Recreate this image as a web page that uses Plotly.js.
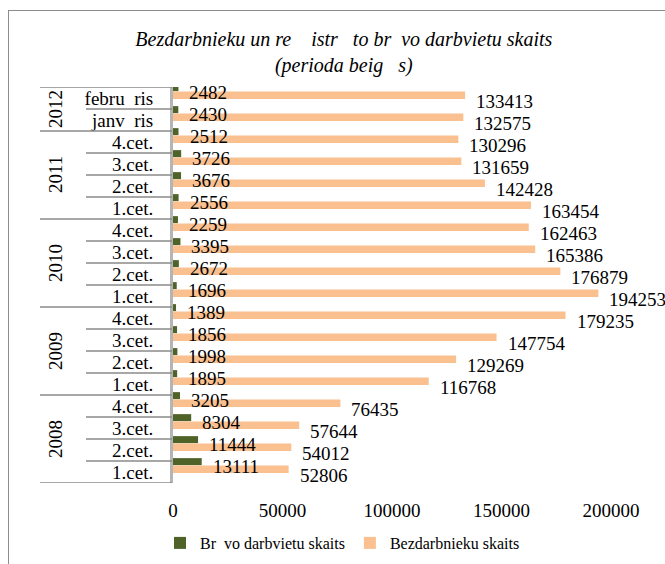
<!DOCTYPE html>
<html><head><meta charset="utf-8">
<script src="https://cdn.plot.ly/plotly-3.0.1.min.js"></script>
<style>
body{margin:0;background:#fff;}
#chart{position:absolute;left:0;top:0;width:665px;height:564px;}
#frame{position:absolute;left:8px;top:10px;width:700px;height:600px;border-left:1.5px solid #8c8c8c;border-top:1.5px solid #8c8c8c;pointer-events:none;}
</style>
</head><body>
<div id="chart"></div><div id="frame"></div>
<script>
const NB = '\u00a0';
// Rows from bottom (2008 1.cet.) to top (2012 februāris)
const rowYears = ['2008','2008','2008','2008','2009','2009','2009','2009','2010','2010','2010','2010','2011','2011','2011','2011','2012','2012'];
const periodLabels = ['1.cet.','2.cet.','3.cet.','4.cet.','1.cet.','2.cet.','3.cet.','4.cet.','1.cet.','2.cet.','3.cet.','4.cet.','1.cet.','2.cet.','3.cet.','4.cet.','janv'+NB+NB+'ris','febru'+NB+NB+'ris'];
const vacancies = [13111,11444,8304,3205,1895,1998,1856,1389,1696,2672,3395,2259,2556,3676,3726,2512,2430,2482];
const unemployed = [52806,54012,57644,76435,116768,129269,147754,179235,194253,176879,165386,162463,163454,142428,131659,130296,132575,133413];
const xTickValues = [0,50000,100000,150000,200000];
const seriesNames = ['Br'+NB+NB+'vo darbvietu skaits','Bezdarbnieku skaits'];
const titleText = 'Bezdarbnieku un re'+NB+NB+NB+NB+'istr'+NB+NB+NB+'to br'+NB+NB+'vo darbvietu skaits<br>(perioda beig'+NB+NB+NB+'s)';

const FONT = 'Liberation Serif, Times New Roman, serif';
const W = 665, H = 564;
const M = {l:173, r:54, t:87, b:81, autoexpand:false};
const PW = W - M.l - M.r;
const PH = H - M.t - M.b;
const px2paper = px => (px - M.l) / PW;
const py2paper = py => (H - M.b - py) / PH;

const idx = rowYears.map((_, i) => i);

const traces = [
  {type:'bar', orientation:'h', name:seriesNames[0], x:vacancies, y:idx,
   offset:0.31, width:0.32, marker:{color:'#4F6228'}, cliponaxis:false,
   hoverinfo:'skip', legendrank:1},
  {type:'bar', orientation:'h', name:seriesNames[1], x:unemployed, y:idx,
   offset:-0.04, width:0.34, marker:{color:'#FAC090'}, cliponaxis:false,
   hoverinfo:'skip', legendrank:2}
];

const LABEL_FONT = {family:FONT, size:19, color:'#000'};
const annotations = [];
idx.forEach(i => {
  annotations.push({x:vacancies[i], y:i+0.25, xref:'x', yref:'y', text:String(vacancies[i]),
    showarrow:false, xanchor:'left', yanchor:'middle', xshift:9, font:LABEL_FONT});
  annotations.push({x:unemployed[i], y:i-0.14, xref:'x', yref:'y', text:String(unemployed[i]),
    showarrow:false, xanchor:'left', yanchor:'middle', xshift:9, font:LABEL_FONT});
});

// year group labels
const groups = [];
rowYears.forEach((yr, i) => {
  if (!groups.length || groups[groups.length-1].year !== yr) groups.push({year:yr, start:i, end:i});
  else groups[groups.length-1].end = i;
});
groups.forEach(g => {
  annotations.push({xref:'paper', yref:'y', x:px2paper(55), y:(g.start+g.end)/2, text:g.year,
    textangle:-90, showarrow:false, xanchor:'center', yanchor:'middle', font:LABEL_FONT});
});

// table lines
const shapes = [];
for (let b = 0; b <= rowYears.length; b++) {
  const isGroup = (b === 0 || b === rowYears.length || rowYears[b] !== rowYears[b-1]);
  shapes.push({type:'line', xref:'paper', yref:'y', x0:px2paper(isGroup ? 40 : 86), x1:px2paper(172),
    y0:b-0.5, y1:b-0.5, line:{color:'#8a8a8a', width:1.5}});
}

const layout = {
  width:W, height:H, margin:M,
  paper_bgcolor:'#fff', plot_bgcolor:'rgba(0,0,0,0)',
  font:{family:FONT, size:19, color:'#000'},
  barmode:'overlay',
  showlegend:true,
  title:{text:titleText, font:{family:FONT, size:20, style:'italic', color:'#000'},
    xref:'container', x:0.517, xanchor:'center', yref:'container', y:0.919, yanchor:'top'},
  xaxis:{range:[0,200000], tickvals:xTickValues, ticktext:xTickValues.map(String),
    showgrid:false, zeroline:false, showline:false, ticks:'', ticklabelstandoff:14,
    tickfont:LABEL_FONT, fixedrange:true, automargin:false},
  yaxis:{range:[-0.5, rowYears.length-0.5], tickvals:idx, ticktext:periodLabels,
    showgrid:false, zeroline:false, showline:true, linecolor:'#b5b5b5', linewidth:3,
    ticks:'', ticklabelstandoff:13, tickfont:LABEL_FONT, fixedrange:true, automargin:false},
  legend:{orientation:'h', x:px2paper(160), xanchor:'left', y:py2paper(543), yanchor:'middle',
    font:{family:FONT, size:16, color:'#000'}, bgcolor:'rgba(0,0,0,0)'},
  annotations, shapes
};

Plotly.newPlot('chart', traces, layout, {displayModeBar:false, staticPlot:true});
</script>
</body></html>
